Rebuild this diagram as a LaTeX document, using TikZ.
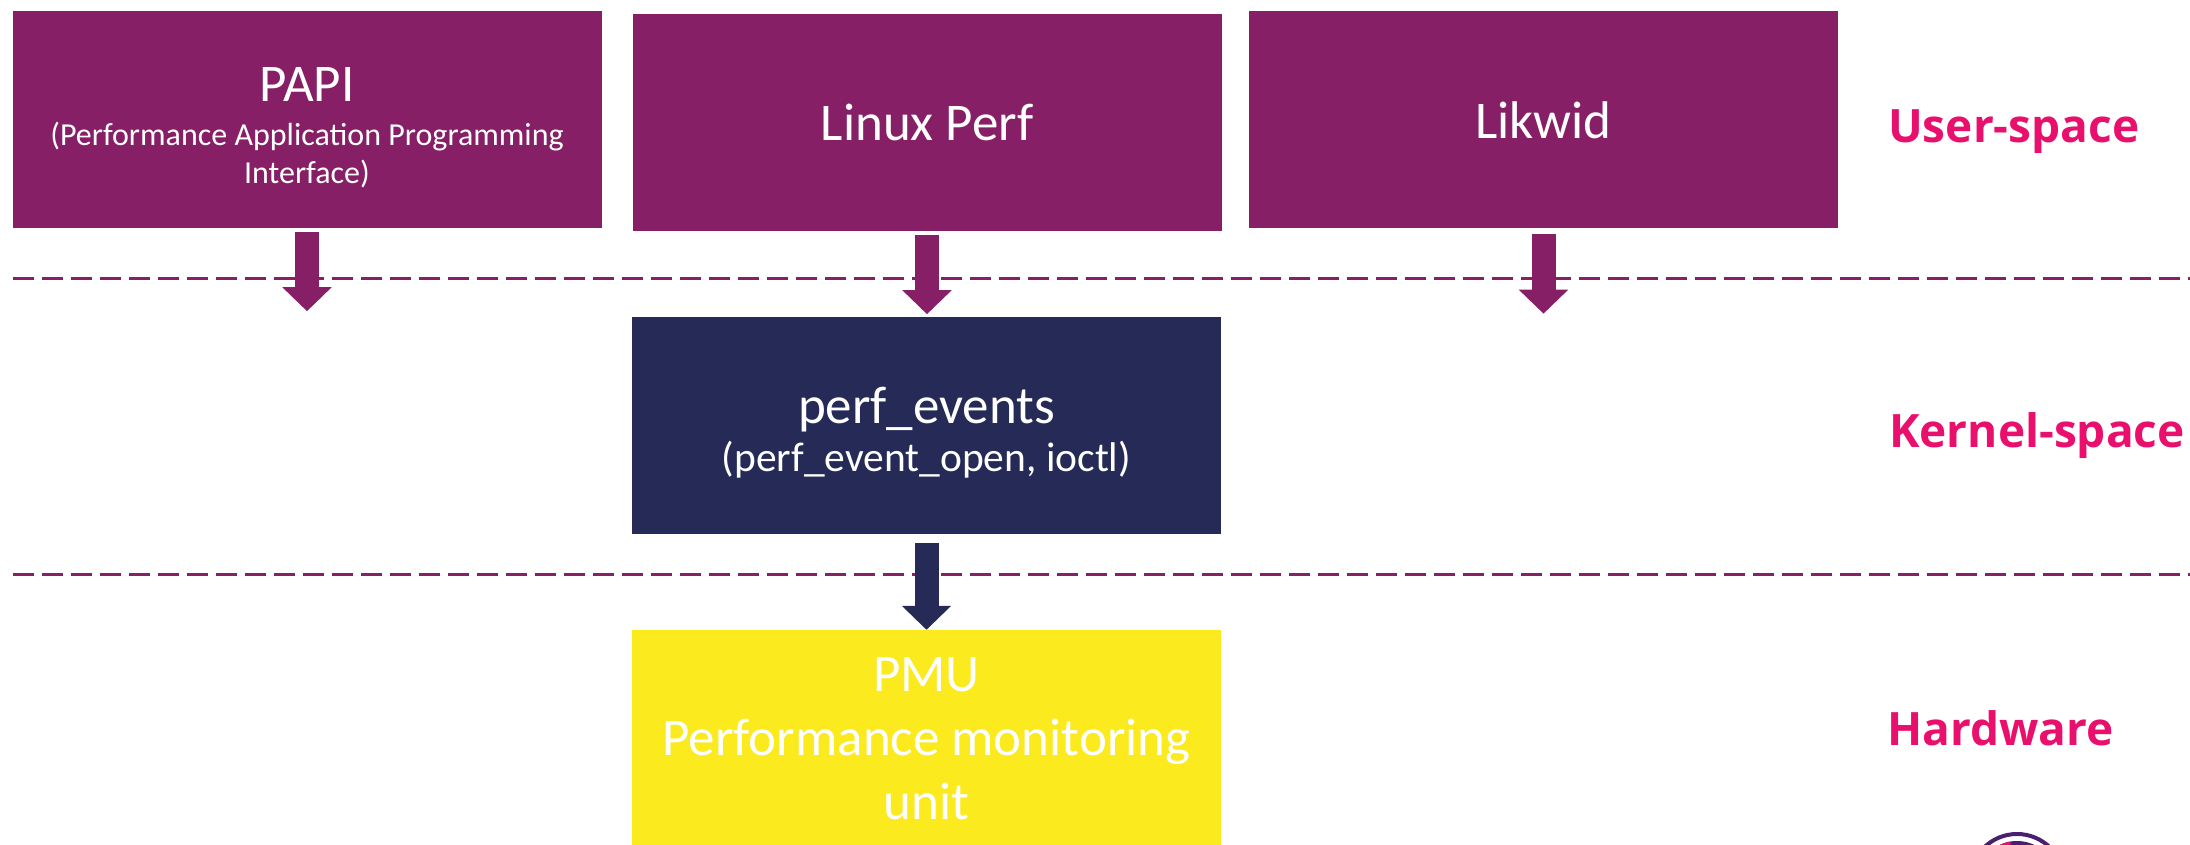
\documentclass[tikz,border=0pt]{standalone}
\usepackage{fontspec}
\setmainfont{Carlito}
\newfontfamily\labelfont{Open Sans}
\usetikzlibrary{arrows.meta}
\definecolor{boxpurple}{RGB}{134,31,102}
\definecolor{boxnavy}{RGB}{38,42,87}
\definecolor{boxyellow}{RGB}{251,234,30}
\definecolor{labelpink}{RGB}{232,16,108}
\definecolor{logodark}{RGB}{75,31,111}
\tikzset{
  boxbase/.style={rectangle, inner sep=0pt, text=white, align=center,
    minimum width=589pt, minimum height=217pt},
  userbox/.style={boxbase, fill=boxpurple},
  kernelbox/.style={boxbase, fill=boxnavy},
  hwbox/.style={boxbase, fill=boxyellow},
  mainfont/.style={font=\fontsize{53}{64}\selectfont},
  layerline/.style={draw=boxpurple, line width=3pt, dash pattern=on 21pt off 8pt},
  blockarrow/.style={line width=24pt, -{Triangle[width=48pt,length=24pt]}},
  layerlabel/.style={anchor=base west, inner sep=0pt, text=labelpink,
    font=\labelfont\bfseries\fontsize{46}{56}\selectfont},
}
\begin{document}
\begin{tikzpicture}[x=1pt,y=1pt]
\useasboundingbox (0,0) rectangle (2190,845);

% layer separators
\coordinate (l1a) at (13,566);
\coordinate (l1b) at (2190,566);
\coordinate (l2a) at (13,270);
\coordinate (l2b) at (2190,270);
\draw[layerline] (l1a) -- (l1b);
\draw[layerline] (l2a) -- (l2b);

% user-space boxes
\node[userbox, font=\fontsize{32}{38}\selectfont] (papi) at (307,725.5)
  {\rule{0pt}{50pt}{\fontsize{53}{53}\selectfont PAPI}\\[6pt]
   (Performance Application Programming\\
   Interface)};
\node[userbox, mainfont] (perf) at (927,722.5) {Linux Perf};
\node[userbox, mainfont] (likwid) at (1543.5,725) {Likwid};

% kernel
\node[kernelbox, font=\fontsize{41.5}{48}\selectfont] (events) at (926.5,419.5)
  {\rule{0pt}{51pt}{\fontsize{53}{53}\selectfont perf\_events}\\
   (perf\_event\_open, ioctl)};

% hardware
\node[hwbox, mainfont] (pmu) at (926.5,106.5)
  {PMU\\
   Performance monitoring\\
   unit};

% arrows
\draw[blockarrow, boxpurple] ([yshift=-4pt]papi.south) -- ++(0,-79);
\draw[blockarrow, boxpurple] ([yshift=-4pt]perf.south) -- ++(0,-79);
\draw[blockarrow, boxpurple] ([yshift=-5pt]likwid.south) -- ++(0,-80);
\draw[blockarrow, boxnavy] ([yshift=-9pt]events.south) -- (pmu.north);

% layer labels
\node[layerlabel] (lu) at (1888,702) {User-space};
\node[layerlabel] (lk) at (1889,397) {Kernel-space};
\node[layerlabel] (lh) at (1887,99) {Hardware};

% partial logo at bottom right
\draw[logodark, line width=4pt] (2017,-36) circle (47);
\fill[logodark] (2017,-36) circle (40);
\fill[labelpink] (2017,-36) -- ++(100:40) arc (100:200:40) -- cycle;
\end{tikzpicture}
\end{document}
